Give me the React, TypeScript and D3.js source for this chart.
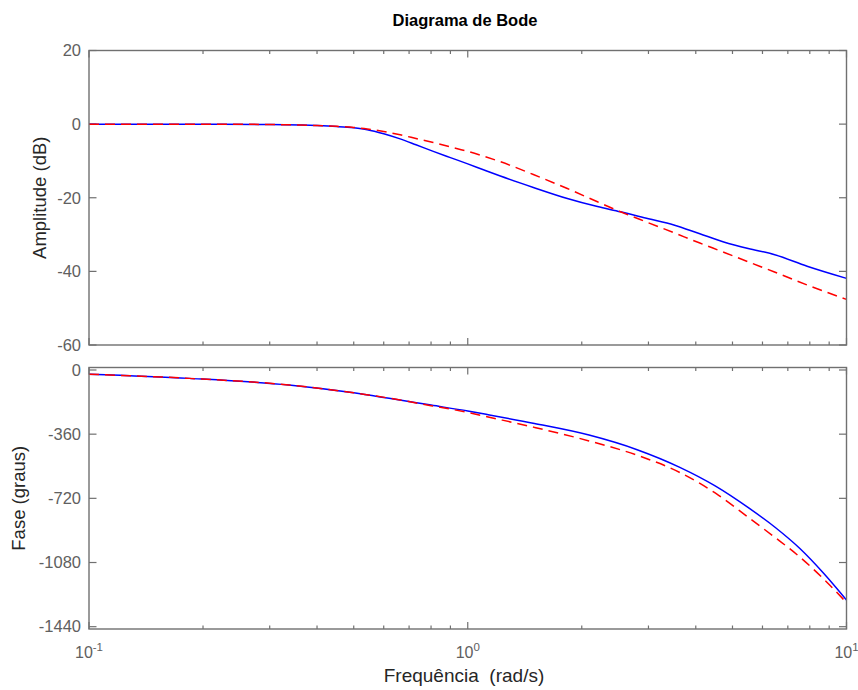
import React from 'react';
import * as d3 from 'd3';

// frequencies (rad/s) where the amplitude was read
const magFreq = [0.1, 0.2, 0.3, 0.361, 0.4, 0.45, 0.5, 0.543, 0.6, 0.663, 0.73, 0.811, 0.9, 1.0, 1.1, 1.219, 1.49, 1.832, 2.2, 2.53, 3.0, 3.5, 4.1, 4.74, 5.5, 6.43, 7.87, 10];
// blue solid curve (dB)
const magReal = [0, 0, -0.1, -0.25, -0.4, -0.65, -1.0, -1.5, -2.6, -4.0, -5.6, -7.4, -9.1, -10.8, -12.4, -14.1, -17.2, -20.2, -22.4, -23.8, -25.7, -27.4, -29.8, -32.0, -33.8, -35.4, -38.6, -41.9];
// red dashed curve (dB)
const magModel = [0, 0, -0.1, -0.25, -0.4, -0.6, -0.9, -1.3, -2.0, -2.9, -3.9, -5.0, -6.2, -7.4, -8.7, -10.2, -13.7, -17.5, -21.1, -23.8, -26.8, -29.5, -32.3, -34.8, -37.4, -40.1, -43.7, -47.6];

// frequencies (rad/s) where the phase was read
const phaseFreq = [0.1, 0.184, 0.337, 0.5, 0.62, 0.8, 1.0, 1.14, 1.5, 2.09, 2.8, 3.63, 4.5, 5.53, 6.5, 7.52, 8.7, 10];
const phaseReal = [-24, -47, -84, -128, -159, -197, -230, -252, -300, -365, -447, -546, -650, -775, -885, -1000, -1140, -1290];
const phaseModel = [-24, -47, -84, -128, -158, -200, -238, -265, -322, -398, -478, -575, -690, -830, -942, -1048, -1172, -1305];

const magTicks = [20, 0, -20, -40, -60];
const phaseTicks = [0, -360, -720, -1080, -1440];
const decades = [0.1, 1, 10];
const decadeExp = ['-1', '0', '1'];

const W = 858;
const H = 690;
const left = 89;
const right = 846.5;
const font = '"Liberation Sans", Arial, Helvetica, sans-serif';
const axisColor = '#707070';
const tickText = '#606060';

const x = d3.scaleLog().domain([0.1, 10]).range([left, right]);
const xMinor = x.ticks();

type PanelProps = {
  y: d3.ScaleLinear<number, number>;
  ticks: number[];
  freq: number[];
  real: number[];
  model: number[];
};

const Panel = ({y, ticks, freq, real, model}: PanelProps) => {
  const [bottom, top] = y.range();
  const line = d3.line<number>()
    .x((_, i) => x(freq[i]))
    .y(d => y(d))
    .curve(d3.curveMonotoneX);

  return (
    <g>
      {/* x ticks on top and bottom edges */}
      {xMinor.map(t => {
        const len = decades.includes(t) ? 7 : 3.5;
        const xp = x(t);
        return (
          <g key={t}>
            <line x1={xp} x2={xp} y1={bottom} y2={bottom - len} stroke={axisColor} strokeWidth={1.2} />
            <line x1={xp} x2={xp} y1={top} y2={top + len} stroke={axisColor} strokeWidth={1.2} />
          </g>
        );
      })}
      {/* y ticks on left and right edges */}
      {ticks.map(t => (
        <g key={t}>
          <line x1={left} x2={left + 7.5} y1={y(t)} y2={y(t)} stroke={axisColor} strokeWidth={1.2} />
          <line x1={right} x2={right - 7.5} y1={y(t)} y2={y(t)} stroke={axisColor} strokeWidth={1.2} />
          <text x={81} y={y(t)} dy="0.35em" textAnchor="end" fontSize={16.5} fill={tickText}>{t}</text>
        </g>
      ))}
      <path d={line(real) ?? ''} fill="none" stroke="#0000ff" strokeWidth={1.5} />
      <path d={line(model) ?? ''} fill="none" stroke="#ff0000" strokeWidth={1.5} strokeDasharray="10,6" />
      <rect x={left} y={top} width={right - left} height={bottom - top} fill="none" stroke={axisColor} strokeWidth={1.4} />
    </g>
  );
};

export default function App() {
  const yMag = d3.scaleLinear().domain([-60, 20]).range([345, 50.5]);
  const yPh = d3.scaleLinear().domain([-1453, 14]).range([629, 367.5]);

  return (
    <svg width={W} height={H} style={{position: 'absolute', left: 0, top: 0, background: '#fff'}} fontFamily={font}>
      <rect width={W} height={H} fill="#fff" />
      <text x={465} y={26} textAnchor="middle" fontSize={16.5} fontWeight="bold" fill="#000">Diagrama de Bode</text>

      <Panel y={yMag} ticks={magTicks} freq={magFreq} real={magReal} model={magModel} />
      <Panel y={yPh} ticks={phaseTicks} freq={phaseFreq} real={phaseReal} model={phaseModel} />

      {decades.map((d, i) => (
        <text key={d} x={x(d)} y={658} textAnchor="middle" fontSize={16} fill={tickText}>
          10<tspan fontSize={11.5} dy={-7}>{decadeExp[i]}</tspan>
        </text>
      ))}

      <text transform={`translate(46,${(50.5 + 345) / 2}) rotate(-90)`} textAnchor="middle" fontSize={18.5} fill="#262626">Amplitude (dB)</text>
      <text transform={`translate(25,${(367.5 + 629) / 2}) rotate(-90)`} textAnchor="middle" fontSize={18.5} fill="#262626">Fase (graus)</text>
      <text x={464} y={682} textAnchor="middle" fontSize={19} fill="#262626" style={{whiteSpace: 'pre'}}>{'Frequência  (rad/s)'}</text>
    </svg>
  );
}
